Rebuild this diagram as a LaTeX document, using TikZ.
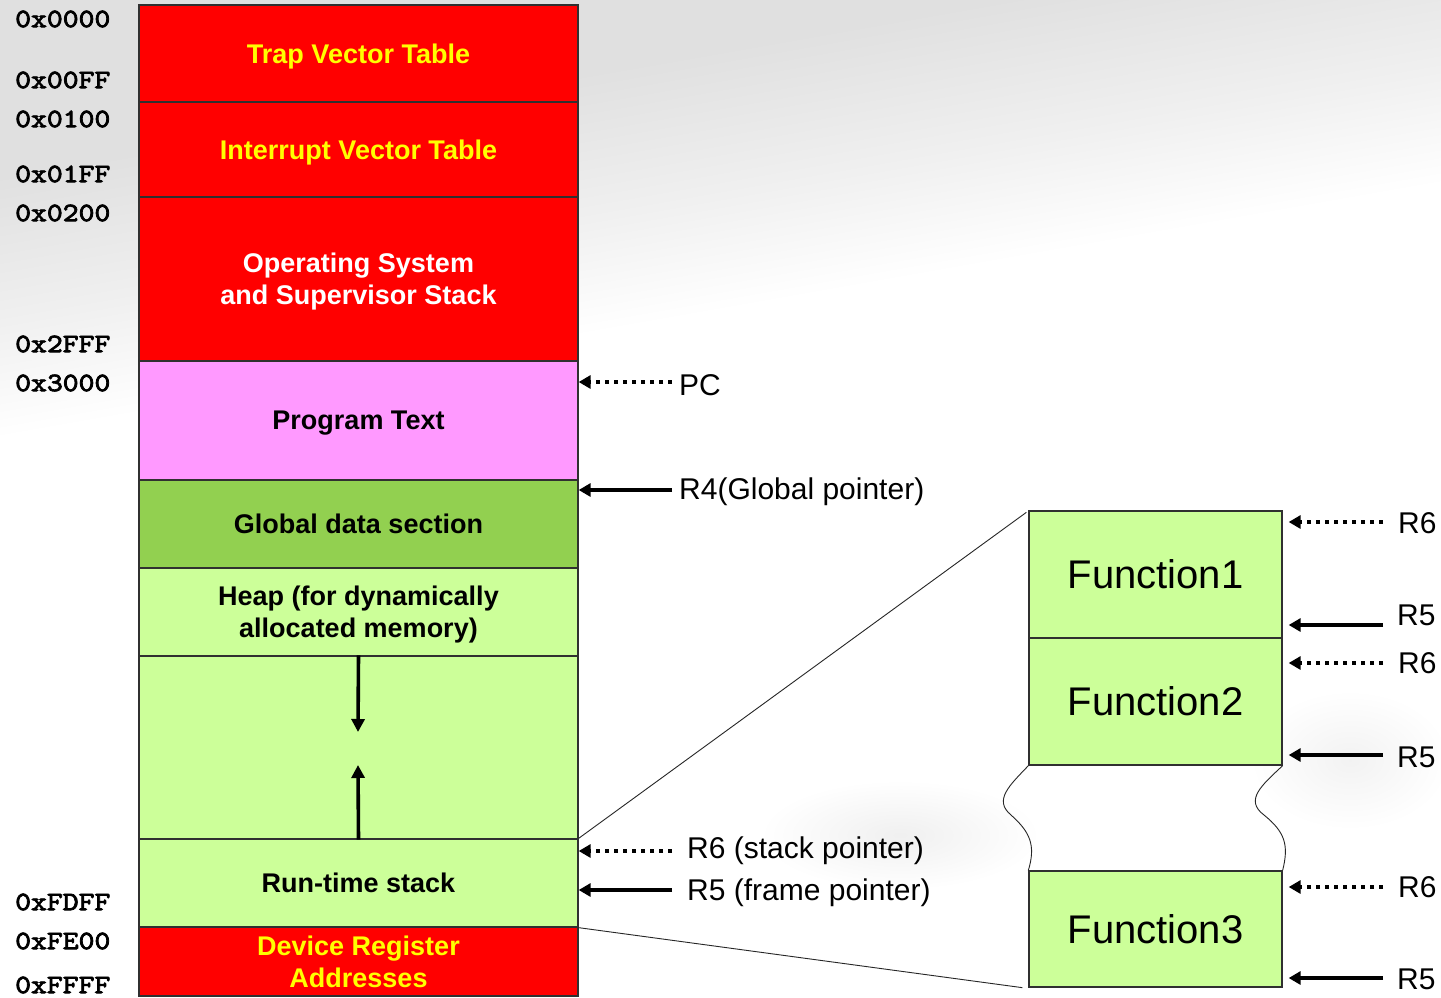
\documentclass[tikz,border=0pt]{standalone}
\usepackage{fontspec}
\setmainfont{Liberation Sans}
\newfontfamily\addrfont[FakeBold=3, FakeStretch=1.14]{lmmono10-regular.otf}
\usetikzlibrary{arrows.meta,calc}
\definecolor{memred}{HTML}{FF0000}
\definecolor{memyellow}{HTML}{FFFF00}
\definecolor{mempink}{HTML}{FF99FF}
\definecolor{memgreen}{HTML}{92D050}
\definecolor{memlight}{HTML}{CCFF99}
\definecolor{edge}{HTML}{303030}
% grey haze in the upper part, white further down
\pgfdeclareverticalshading{haze}{100bp}{color(0bp)=(white); color(58bp)=(white);
  color(63bp)=(black!6); color(69bp)=(black!12); color(100bp)=(black!13)}
\tikzset{
  region/.style={draw=edge, line width=1.3pt, minimum width=439pt, inner sep=0pt,
    text depth=0pt, align=center, font=\fontsize{27}{32}\selectfont\bfseries},
  frame/.style={draw=edge, line width=1.3pt, fill=memlight, minimum width=253pt,
    inner sep=0pt, font=\fontsize{40}{46}\selectfont},
  addr/.style={anchor=west, inner sep=0pt, font=\addrfont\fontsize{26.5}{30}\selectfont},
  reg/.style={anchor=west, inner sep=0pt, font=\fontsize{30}{34}\selectfont},
  solidptr/.style={line width=3.6pt, -{Triangle[length=12pt,width=13pt]}},
  dotptr/.style={line width=3.6pt, dash pattern=on 4.5pt off 4.5pt,
    -{Triangle[length=12pt,width=13pt]}},
  growth/.style={line width=3.6pt, -{Triangle[length=13pt,width=13pt]}},
  link/.style={line width=0.9pt, draw=black!85},
}
\begin{document}
\begin{tikzpicture}[x=1pt,y=-1pt]
  % backdrop
  \useasboundingbox (0,0) rectangle (1441,997);
  \begin{scope}
    \clip (0,0) rectangle (1441,997);
    \shade[shading=haze, shading angle=10] (-50,-50) rectangle (1491,1050);
    \shade[inner color=black!6, outer color=white] (900,835) ellipse (140 and 55);
    \shade[inner color=black!5, outer color=white] (1350,760) ellipse (100 and 70);
  \end{scope}

  % memory map column
  \node[region, fill=memred, text=memyellow, minimum height=97pt]  (trap)  at (358.5,53.5)  {Trap Vector Table};
  \node[region, fill=memred, text=memyellow, minimum height=95pt]  (intr)  at (358.5,149.5) {Interrupt Vector Table};
  \node[region, fill=memred, text=white, minimum height=164pt]     (os)    at (358.5,279)   {Operating System\\and Supervisor Stack};
  \node[region, fill=mempink, minimum height=119pt]                (prog)  at (358.5,420.5) {Program Text};
  \node[region, fill=memgreen, minimum height=88pt]                (glob)  at (358.5,524)   {Global data section};
  \node[region, fill=memlight, minimum height=88pt]                (heap)  at (358.5,612)   {Heap (for dynamically\\allocated memory)};
  \node[region, fill=memlight, minimum height=183pt]               (free)  at (358.5,747.5) {};
  \node[region, fill=memlight, minimum height=88pt]                (stack) at (358.5,883)   {Run-time stack};
  \node[region, fill=memred, text=memyellow, minimum height=69pt]  (dev)   at (358.5,961.5) {Device Register\\Addresses};

  % heap grows down, stack grows up
  \coordinate (heapgrow)  at (358,732);
  \coordinate (stackgrow) at (358,765);
  \draw[growth] (free.north) -- (heapgrow);
  \draw[growth] (free.south) -- (stackgrow);

  % addresses
  \node[addr] (a0000) at (15,19)  {0x0000};
  \node[addr] (a00ff) at (15,80)  {0x00FF};
  \node[addr] (a0100) at (15,119) {0x0100};
  \node[addr] (a01ff) at (15,174) {0x01FF};
  \node[addr] (a0200) at (15,213) {0x0200};
  \node[addr] (a2fff) at (15,344) {0x2FFF};
  \node[addr] (a3000) at (15,383) {0x3000};
  \node[addr] (afdff) at (15,902) {0xFDFF};
  \node[addr] (afe00) at (15,941) {0xFE00};
  \node[addr] (affff) at (15,985) {0xFFFF};

  % register pointers into the memory map
  \node[reg] (pc)  at (679,385) {PC};
  \node[reg] (r4)  at (679,492) {R4(Global pointer)};
  \node[reg] (sp)  at (687,851) {R6 (stack pointer)};
  \node[reg] (fp)  at (687,893) {R5 (frame pointer)};
  \coordinate (pct) at (672,382);
  \coordinate (r4t) at (672,490);
  \coordinate (spt) at (672,851);
  \coordinate (fpt) at (672,890);
  \draw[dotptr]   (pct) -- (pct -| prog.east);
  \draw[solidptr] (r4t) -- (r4t -| glob.east);
  \draw[dotptr]   (spt) -- (spt -| stack.east);
  \draw[solidptr] (fpt) -- (fpt -| stack.east);

  % activation records
  \node[frame, minimum height=127pt] (f1) at (1155.5,574.5) {Function1};
  \node[frame, minimum height=127pt] (f2) at (1155.5,701.5) {Function2};
  \node[frame, minimum height=116pt] (f3) at (1155.5,929)   {Function3};

  % zoom lines from the run-time stack
  \draw[link] (stack.north east) -- ($(f1.north west)+(-2,2)$);
  \draw[link] (stack.south east) -- ($(f3.south west)+(-6,0)$);

  % elided frames between Function2 and Function3
  \draw[link] (f2.south west) .. controls (1010,785) and (993,800) .. (1011,815)
                              .. controls (1030,832) and (1036,845) .. (f3.north west);
  \draw[link] (f2.south east) .. controls (1262,785) and (1244,800) .. (1264,815)
                              .. controls (1285,832) and (1289,845) .. (f3.north east);

  % frame register labels
  \node[reg] (f1sp) at (1398,523) {R6};
  \node[reg] (f1fp) at (1397,615) {R5};
  \node[reg] (f2sp) at (1398,663) {R6};
  \node[reg] (f2fp) at (1397,757) {R5};
  \node[reg] (f3sp) at (1398,887) {R6};
  \node[reg] (f3fp) at (1397,979) {R5};
  \coordinate (f1spt) at (1383,522);
  \coordinate (f1fpt) at (1383,625);
  \coordinate (f2spt) at (1383,663);
  \coordinate (f2fpt) at (1383,755);
  \coordinate (f3spt) at (1383,887);
  \coordinate (f3fpt) at (1383,978);
  \draw[dotptr, shorten >=6pt]   (f1spt) -- (f1spt -| f1.east);
  \draw[solidptr, shorten >=6pt] (f1fpt) -- (f1fpt -| f1.east);
  \draw[dotptr, shorten >=6pt]   (f2spt) -- (f2spt -| f2.east);
  \draw[solidptr, shorten >=6pt] (f2fpt) -- (f2fpt -| f2.east);
  \draw[dotptr, shorten >=6pt]   (f3spt) -- (f3spt -| f3.east);
  \draw[solidptr, shorten >=6pt] (f3fpt) -- (f3fpt -| f3.east);
\end{tikzpicture}
\end{document}
